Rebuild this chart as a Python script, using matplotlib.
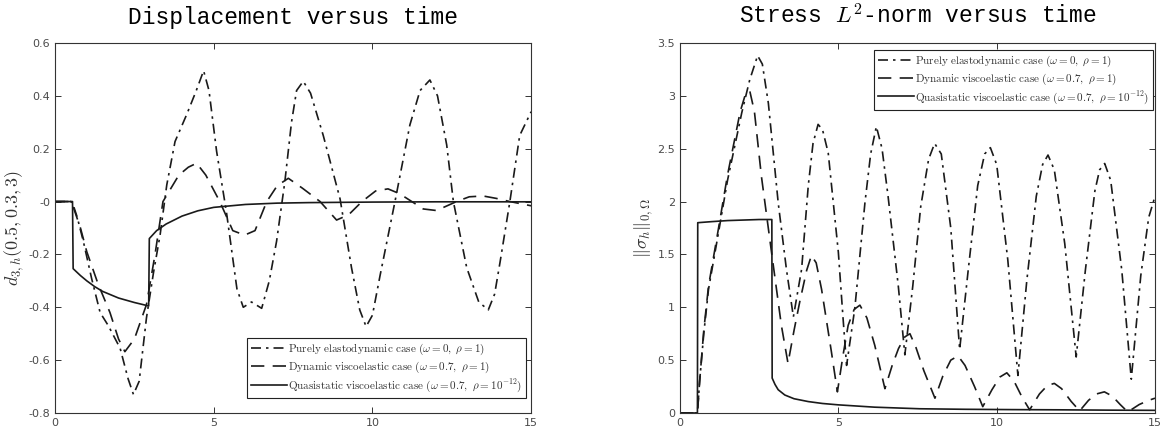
import numpy as np
import matplotlib
matplotlib.use("Agg")
import matplotlib.pyplot as plt
from matplotlib.ticker import FuncFormatter

plt.rcParams.update({
    "mathtext.fontset": "cm",
    "axes.unicode_minus": False,
    "font.family": "DejaVu Sans",
})

# ── Displacement d_{3,h}(0.5, 0.3, 3) ─────────────────────────────────────────
disp_el_t = [0, 0.5, 0.55, 0.7, 0.89, 1.15, 1.42, 1.68, 2.05, 2.3, 2.47, 2.65, 2.88, 3.1,
             3.31, 3.52, 3.78, 4.15, 4.45, 4.68, 4.85, 5.09, 5.4, 5.73, 5.93, 6.19, 6.51,
             6.75, 6.98, 7.24, 7.45, 7.61, 7.82, 8.05, 8.45, 8.98, 9.34, 9.6, 9.8, 10.0,
             10.24, 10.71, 11.18, 11.5, 11.81, 12.05, 12.34, 12.55, 12.97, 13.35, 13.65,
             13.85, 14.02, 14.33, 14.64, 15]
disp_el_v = [0, 0, -0.005, -0.06, -0.15, -0.29, -0.42, -0.47, -0.555, -0.67, -0.73, -0.68,
             -0.44, -0.27, -0.126, 0.063, 0.227, 0.33, 0.42, 0.495, 0.42, 0.19, -0.04, -0.33,
             -0.40, -0.38, -0.404, -0.3, -0.15, 0.075, 0.3, 0.42, 0.455, 0.41, 0.25, 0.01,
             -0.25, -0.41, -0.473, -0.43, -0.28, 0, 0.29, 0.42, 0.46, 0.4, 0.214, 0, -0.25,
             -0.38, -0.41, -0.35, -0.23, 0, 0.25, 0.34]

disp_dv_t = [0, 0.5, 0.6, 0.8, 1.0, 1.35, 1.73, 2.0, 2.2, 2.5, 2.88, 3.15, 3.4, 3.6, 3.9,
             4.2, 4.46, 4.75, 5.19, 5.6, 5.97, 6.3, 6.67, 7.0, 7.35, 7.8, 8.35, 8.87, 9.25,
             9.67, 10.1, 10.49, 10.85, 11.24, 11.6, 12.02, 12.65, 13.05, 13.49, 13.9,
             14.33, 15]
disp_dv_v = [0, 0, -0.03, -0.1, -0.19, -0.31, -0.42, -0.52, -0.568, -0.52, -0.39, -0.2, 0,
             0.04, 0.1, 0.13, 0.145, 0.1, 0, -0.11, -0.127, -0.11, 0, 0.06, 0.088, 0.05, 0,
             -0.07, -0.05, 0, 0.04, 0.048, 0.03, 0, -0.028, -0.034, 0, 0.018, 0.021, 0.012,
             0, -0.016]

disp_qs_t = [0, 0.55, 0.57, 0.8, 1.0, 1.25, 1.5, 2.0, 2.5, 2.95, 2.97, 3.2, 3.5, 4.0, 4.5,
             5.0, 6.0, 7.0, 8.0, 10.0, 12.0, 15.0]
disp_qs_v = [0, 0, -0.254, -0.28, -0.30, -0.322, -0.34, -0.365, -0.382, -0.395, -0.14,
             -0.11, -0.085, -0.055, -0.035, -0.022, -0.011, -0.006, -0.004, -0.002, -0.001,
             -0.001]

# ── Stress L2-norm ||sigma_h||_{0,Omega} ──────────────────────────────────────
str_el_t = [0, 0.55, 0.62, 0.75, 0.9, 1.2, 1.5, 1.95, 2.2, 2.45, 2.6, 2.79, 3.1, 3.36,
            3.58, 3.84, 4.05, 4.2, 4.36, 4.5, 4.68, 5.0, 5.15, 5.26, 5.52, 5.84, 6.02, 6.2,
            6.38, 6.57, 6.89, 7.1, 7.35, 7.6, 7.85, 8.04, 8.25, 8.55, 8.83, 9.1, 9.4, 9.62,
            9.8, 10.0, 10.35, 10.67, 10.95, 11.25, 11.45, 11.62, 11.82, 12.15, 12.51, 12.8,
            13.1, 13.25, 13.41, 13.6, 13.95, 14.25, 14.55, 14.8, 15]
str_el_v = [0, 0, 0.3, 0.75, 1.17, 1.68, 2.2, 2.84, 3.15, 3.38, 3.3, 2.93, 1.99, 1.36, 0.91,
            1.36, 2.15, 2.55, 2.73, 2.68, 2.46, 1.52, 0.89, 0.45, 0.99, 1.99, 2.45, 2.71,
            2.5, 2.05, 1.21, 0.55, 1.2, 1.95, 2.4, 2.55, 2.45, 1.75, 0.6, 1.35, 2.15, 2.45,
            2.51, 2.35, 1.45, 0.355, 1.25, 2.05, 2.35, 2.44, 2.3, 1.6, 0.53, 1.35, 2.1, 2.3,
            2.36, 2.2, 1.35, 0.32, 1.3, 1.85, 2.05]

str_dv_t = [0, 0.55, 0.62, 0.75, 0.9, 1.2, 1.5, 1.9, 2.05, 2.2, 2.35, 2.57, 2.89, 3.2,
            3.41, 3.6, 3.78, 4.0, 4.15, 4.3, 4.47, 4.78, 4.97, 5.15, 5.31, 5.5, 5.68, 5.9,
            6.15, 6.47, 6.7, 6.9, 7.1, 7.26, 7.45, 7.7, 8.05, 8.3, 8.55, 8.78, 9.0, 9.3,
            9.56, 9.85, 10.1, 10.32, 10.55, 10.8, 11.04, 11.35, 11.6, 11.82, 12.05, 12.35,
            12.62, 12.9, 13.15, 13.4, 13.65, 13.9, 14.14, 14.5, 14.8, 15]
str_dv_v = [0, 0, 0.3, 0.78, 1.2, 1.72, 2.25, 2.85, 3.0, 3.05, 2.85, 2.24, 1.52, 0.83, 0.47,
            0.78, 1.05, 1.35, 1.49, 1.42, 1.17, 0.58, 0.2, 0.55, 0.83, 0.98, 1.02, 0.9,
            0.64, 0.23, 0.45, 0.61, 0.72, 0.75, 0.62, 0.4, 0.14, 0.35, 0.5, 0.54, 0.45, 0.25,
            0.06, 0.22, 0.34, 0.38, 0.3, 0.15, 0.03, 0.18, 0.26, 0.28, 0.23, 0.11, 0.02,
            0.12, 0.18, 0.2, 0.16, 0.08, 0.01, 0.08, 0.12, 0.14]

str_qs_t = [0, 0.55, 0.56, 1.0, 1.5, 2.0, 2.5, 2.9, 2.91, 3.0, 3.1, 3.31, 3.6, 4.05, 4.5,
            5.0, 6.15, 7.57, 9.0, 10.5, 12.0, 13.5, 15.0]
str_qs_v = [0, 0, 1.80, 1.81, 1.82, 1.825, 1.83, 1.83, 0.33, 0.27, 0.22, 0.17, 0.135, 0.108,
            0.09, 0.077, 0.055, 0.04, 0.035, 0.032, 0.03, 0.027, 0.025]

LABELS = [
    r"$\mathrm{Purely\ elastodynamic\ case}\ (\omega = 0,\ \rho = 1)$",
    r"$\mathrm{Dynamic\ viscoelastic\ case}\ (\omega = 0.7,\ \rho = 1)$",
    r"$\mathrm{Quasistatic\ viscoelastic\ case}\ (\omega = 0.7,\ \rho = 10^{-12})$",
]
STYLES = [(0, (6, 3, 1.5, 3)), (0, (8, 5)), "-"]
LINE_COLOR = "#1a1a1a"
TICK_COLOR = "#4a4a4a"

fig = plt.figure(figsize=(11.64, 4.34), dpi=100)
ax1 = fig.add_axes([0.0473, 0.0484, 0.4090, 0.8526])
ax2 = fig.add_axes([0.5842, 0.0484, 0.4081, 0.8526])

fmt = FuncFormatter(lambda v, p: f"{v:g}")


def style_axes(ax, yticks, ylim):
    ax.set_xlim(0, 15)
    ax.set_ylim(*ylim)
    ax.set_xticks([0, 5, 10, 15])
    ax.set_yticks(yticks)
    ax.xaxis.set_major_formatter(fmt)
    ax.yaxis.set_major_formatter(fmt)
    ax.tick_params(direction="in", length=4, width=0.7, top=True, right=True,
                   labelsize=8, colors="#333333", labelcolor=TICK_COLOR)
    for s in ax.spines.values():
        s.set_color("#333333")
        s.set_linewidth(0.8)


series1 = [(disp_el_t, disp_el_v), (disp_dv_t, disp_dv_v), (disp_qs_t, disp_qs_v)]
series2 = [(str_el_t, str_el_v), (str_dv_t, str_dv_v), (str_qs_t, str_qs_v)]

for ax, series in [(ax1, series1), (ax2, series2)]:
    for (t, v), ls, lab in zip(series, STYLES, LABELS):
        ax.plot(t, v, color=LINE_COLOR, linestyle=ls, linewidth=1.2, label=lab)

style_axes(ax1, np.arange(-0.8, 0.61, 0.2).round(1), (-0.8, 0.6))
style_axes(ax2, np.arange(0, 3.51, 0.5), (0, 3.5))

ax1.set_title("Displacement versus time", family="Liberation Mono", fontsize=16.5, pad=14)
ax2.set_title(r"Stress $L^2$-norm versus time", family="Liberation Mono", fontsize=16.5, pad=14)
ax1.set_ylabel(r"$d_{3,h}(0.5, 0.3, 3)$", fontsize=13, color="#333333", labelpad=2)
ax2.set_ylabel(r"$\|\sigma_h\|_{0,\Omega}$", fontsize=13, color="#333333", labelpad=2)

leg_kw = dict(fontsize=8, frameon=True, fancybox=False, edgecolor="#222222",
              framealpha=1, borderaxespad=0, handlelength=3.2, handletextpad=0.15,
              labelspacing=0.2, borderpad=0.35, labelcolor="#333333")
l1 = ax1.legend(loc="lower right", bbox_to_anchor=(0.9895, 0.0405), **leg_kw)
l2 = ax2.legend(loc="upper right", bbox_to_anchor=(0.996, 0.981), **leg_kw)
for leg in (l1, l2):
    leg.get_frame().set_linewidth(0.8)

fig.savefig("out.png", dpi=100, facecolor="white")
